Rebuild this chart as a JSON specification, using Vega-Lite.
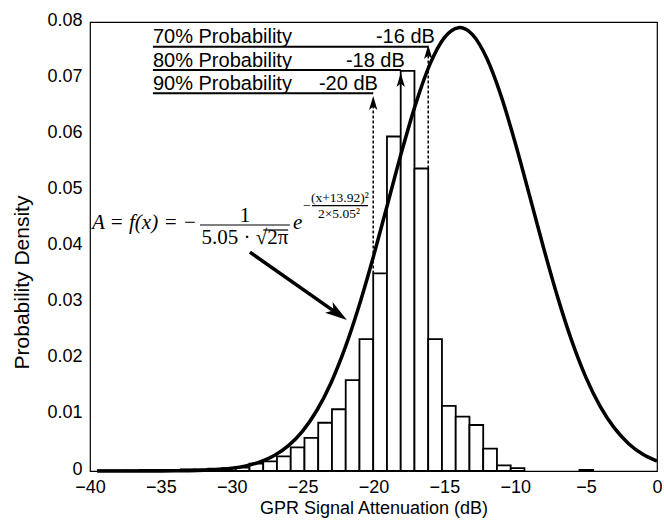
{
  "$schema": "https://vega.github.io/schema/vega-lite/v6.json",
  "width": 567,
  "height": 449,
  "autosize": {"type": "none"},
  "padding": {"left": 90, "top": 22, "right": 7, "bottom": 53},
  "background": "white",
  "config": {
    "view": {"stroke": "black", "strokeWidth": 1.2},
    "font": "Liberation Sans",
    "axis": {
      "grid": false, "ticks": false, "tickSize": 0, "domain": false,
      "labelColor": "black", "titleColor": "black",
      "labelFont": "Liberation Sans", "titleFont": "Liberation Sans",
      "labelFontSize": 18, "titleFontSize": 18, "titleFontWeight": "normal",
      "labelFlush": false
    }
  },
  "datasets": {
    "bars": [
      {"x": -39.42, "x2": -38.45, "y": 0.0001},
      {"x": -38.45, "x2": -37.48, "y": 0.0001},
      {"x": -37.48, "x2": -36.51, "y": 0.0001},
      {"x": -36.51, "x2": -35.54, "y": 0.0002},
      {"x": -35.54, "x2": -34.57, "y": 0.0002},
      {"x": -34.57, "x2": -33.60, "y": 0.0002},
      {"x": -33.60, "x2": -32.63, "y": 0.0003},
      {"x": -32.63, "x2": -31.66, "y": 0.0003},
      {"x": -31.66, "x2": -30.69, "y": 0.0004},
      {"x": -30.69, "x2": -29.72, "y": 0.0005},
      {"x": -29.72, "x2": -28.75, "y": 0.0006},
      {"x": -28.75, "x2": -27.78, "y": 0.0013},
      {"x": -27.78, "x2": -26.81, "y": 0.0017},
      {"x": -26.81, "x2": -25.84, "y": 0.0026},
      {"x": -25.84, "x2": -24.87, "y": 0.0042},
      {"x": -24.87, "x2": -23.90, "y": 0.0059},
      {"x": -23.90, "x2": -22.93, "y": 0.0086},
      {"x": -22.93, "x2": -21.96, "y": 0.0110},
      {"x": -21.96, "x2": -20.99, "y": 0.0162},
      {"x": -20.99, "x2": -20.02, "y": 0.0235},
      {"x": -20.02, "x2": -19.05, "y": 0.0352},
      {"x": -19.05, "x2": -18.08, "y": 0.0596},
      {"x": -18.08, "x2": -17.11, "y": 0.0713},
      {"x": -17.11, "x2": -16.14, "y": 0.0539},
      {"x": -16.14, "x2": -15.17, "y": 0.0235},
      {"x": -15.17, "x2": -14.20, "y": 0.0116},
      {"x": -14.20, "x2": -13.23, "y": 0.0097},
      {"x": -13.23, "x2": -12.26, "y": 0.0082},
      {"x": -12.26, "x2": -11.29, "y": 0.0040},
      {"x": -11.29, "x2": -10.32, "y": 0.0010},
      {"x": -10.32, "x2": -9.35, "y": 0.0005},
      {"x": -5.47, "x2": -4.50, "y": 0.0002}
    ],
    "curve": [
      {"x": -39.5, "y": 0.0},
      {"x": -39, "y": 0.0000003},
      {"x": -38, "y": 0.0000009},
      {"x": -37, "y": 0.0000023},
      {"x": -36, "y": 0.0000056},
      {"x": -35, "y": 0.000013},
      {"x": -34, "y": 0.000029},
      {"x": -33, "y": 0.000063},
      {"x": -32, "y": 0.00013},
      {"x": -31, "y": 0.00026},
      {"x": -30, "y": 0.00050},
      {"x": -29, "y": 0.00092},
      {"x": -28, "y": 0.00162},
      {"x": -27, "y": 0.00276},
      {"x": -26, "y": 0.00452},
      {"x": -25, "y": 0.00712},
      {"x": -24, "y": 0.01078},
      {"x": -23, "y": 0.01569},
      {"x": -22, "y": 0.02197},
      {"x": -21, "y": 0.02957},
      {"x": -20, "y": 0.03827},
      {"x": -19, "y": 0.04763},
      {"x": -18, "y": 0.05700},
      {"x": -17, "y": 0.06559},
      {"x": -16, "y": 0.07258},
      {"x": -15, "y": 0.07721},
      {"x": -14, "y": 0.07899},
      {"x": -13.92, "y": 0.07900},
      {"x": -13, "y": 0.07770},
      {"x": -12, "y": 0.07349},
      {"x": -11, "y": 0.06684},
      {"x": -10, "y": 0.05845},
      {"x": -9, "y": 0.04915},
      {"x": -8, "y": 0.03974},
      {"x": -7, "y": 0.03089},
      {"x": -6, "y": 0.02310},
      {"x": -5, "y": 0.01660},
      {"x": -4, "y": 0.01148},
      {"x": -3, "y": 0.00763},
      {"x": -2, "y": 0.00487},
      {"x": -1, "y": 0.00299},
      {"x": 0, "y": 0.00177}
    ],
    "dashed": [
      {"x": -20.02, "y": 0.0352, "y2": 0.0660},
      {"x": -18.08, "y": 0.0596, "y2": 0.0702},
      {"x": -16.14, "y": 0.0539, "y2": 0.0750}
    ],
    "underlines": [
      {"x": -35.56, "x2": -16.14, "y": 0.0756},
      {"x": -35.56, "x2": -18.08, "y": 0.07145},
      {"x": -35.56, "x2": -20.02, "y": 0.0673}
    ],
    "heads": [
      {"x": -20.02, "y": 0.0668},
      {"x": -18.08, "y": 0.0709},
      {"x": -16.14, "y": 0.0759}
    ],
    "bighead": [
      {"x": -21.88, "y": 0.0269}
    ],
    "shaft": [
      {"x": -28.72, "y": 0.0390, "x2": -22.74, "y2": 0.0284}
    ],
    "fracbars": [
      {"x": -32.24, "x2": -25.90, "y": 0.04383},
      {"x": -27.78, "x2": -26.02, "y": 0.04294},
      {"x": -24.34, "x2": -20.39, "y": 0.04727}
    ],
    "problabels": [
      {"x": -35.56, "y": 0.0762, "label": "70% Probability"},
      {"x": -35.56, "y": 0.0720, "label": "80% Probability"},
      {"x": -35.56, "y": 0.0679, "label": "90% Probability"}
    ],
    "dblabels": [
      {"x": -15.67, "y": 0.0762, "label": "-16 dB"},
      {"x": -17.79, "y": 0.0720, "label": "-18 dB"},
      {"x": -19.69, "y": 0.0679, "label": "-20 dB"}
    ],
    "fmain": [
      {"x": -32.45, "y": 0.0431, "label": "A = f(x) = −"}
    ],
    "fe": [
      {"x": -25.68, "y": 0.0431, "label": "e"}
    ],
    "ffrac": [
      {"x": -29.07, "y": 0.04442, "label": "1"},
      {"x": -29.07, "y": 0.04045, "label": "5.05 · √2π"}
    ],
    "fexp": [
      {"x": -24.70, "y": 0.04645, "label": "−"},
      {"x": -22.37, "y": 0.0479, "label": "(x+13.92)²"},
      {"x": -22.44, "y": 0.04508, "label": "2×5.05²"}
    ]
  },
  "encoding": {
    "x": {
      "field": "x", "type": "quantitative",
      "scale": {"domain": [-40, 0], "nice": false, "zero": false},
      "axis": {
        "values": [-40, -35, -30, -25, -20, -15, -10, -5, 0],
        "format": "d",
        "title": "GPR Signal Attenuation (dB)",
        "labelPadding": 7,
        "titleY": 42, "titleBaseline": "alphabetic"
      }
    },
    "y": {
      "field": "y", "type": "quantitative",
      "scale": {"domain": [0, 0.08], "nice": false},
      "axis": {
        "values": [0, 0.01, 0.02, 0.03, 0.04, 0.05, 0.06, 0.07, 0.08],
        "format": ".2~f",
        "title": "Probability Density",
        "labelPadding": 8,
        "labelOffset": -2,
        "titleX": -62, "titleY": 260, "titleBaseline": "alphabetic", "titleFontSize": 21
      }
    }
  },
  "layer": [
    {
      "data": {"name": "dashed"},
      "mark": {"type": "rule", "color": "black", "strokeWidth": 1.5, "strokeDash": [3, 2]},
      "encoding": {"y2": {"field": "y2"}}
    },
    {
      "data": {"name": "bars"},
      "mark": {"type": "rect", "fill": "white", "stroke": "black", "strokeWidth": 1.8},
      "encoding": {"x2": {"field": "x2"}, "y2": {"datum": 0}}
    },
    {
      "data": {"name": "curve"},
      "mark": {"type": "line", "color": "black", "strokeWidth": 3.5, "interpolate": "monotone"}
    },
    {
      "data": {"name": "underlines"},
      "mark": {"type": "rule", "color": "black", "strokeWidth": 2},
      "encoding": {"x2": {"field": "x2"}}
    },
    {
      "data": {"name": "problabels"},
      "mark": {"type": "text", "align": "left", "baseline": "alphabetic", "font": "Liberation Sans", "fontSize": 20, "color": "black"},
      "encoding": {"text": {"field": "label"}}
    },
    {
      "data": {"name": "dblabels"},
      "mark": {"type": "text", "align": "right", "baseline": "alphabetic", "font": "Liberation Sans", "fontSize": 20, "color": "black"},
      "encoding": {"text": {"field": "label"}}
    },
    {
      "data": {"name": "heads"},
      "mark": {"type": "point", "shape": "M0,0L0.6,2L0,1.5L-0.6,2Z", "size": 196, "filled": true, "color": "black", "opacity": 1, "strokeWidth": 0}
    },
    {
      "data": {"name": "fracbars"},
      "mark": {"type": "rule", "color": "black", "strokeWidth": 1.2},
      "encoding": {"x2": {"field": "x2"}}
    },
    {
      "data": {"name": "fmain"},
      "mark": {"type": "text", "align": "right", "baseline": "alphabetic", "font": "Liberation Serif", "fontStyle": "italic", "fontSize": 21, "color": "black"},
      "encoding": {"text": {"field": "label"}}
    },
    {
      "data": {"name": "fe"},
      "mark": {"type": "text", "align": "left", "baseline": "alphabetic", "font": "Liberation Serif", "fontStyle": "italic", "fontSize": 21, "color": "black"},
      "encoding": {"text": {"field": "label"}}
    },
    {
      "data": {"name": "ffrac"},
      "mark": {"type": "text", "align": "center", "baseline": "alphabetic", "font": "Liberation Serif", "fontSize": 21, "color": "black"},
      "encoding": {"text": {"field": "label"}}
    },
    {
      "data": {"name": "fexp"},
      "mark": {"type": "text", "align": "center", "baseline": "alphabetic", "font": "Liberation Serif", "fontSize": 13.5, "color": "black"},
      "encoding": {"text": {"field": "label"}}
    },
    {
      "data": {"name": "shaft"},
      "mark": {"type": "rule", "color": "black", "strokeWidth": 3.5},
      "encoding": {"x2": {"field": "x2"}, "y2": {"field": "y2"}}
    },
    {
      "data": {"name": "bighead"},
      "mark": {"type": "point", "shape": "M0,0L0.6,2L0,1.5L-0.6,2Z", "size": 484, "angle": 125, "filled": true, "color": "black", "opacity": 1, "strokeWidth": 0}
    }
  ]
}
